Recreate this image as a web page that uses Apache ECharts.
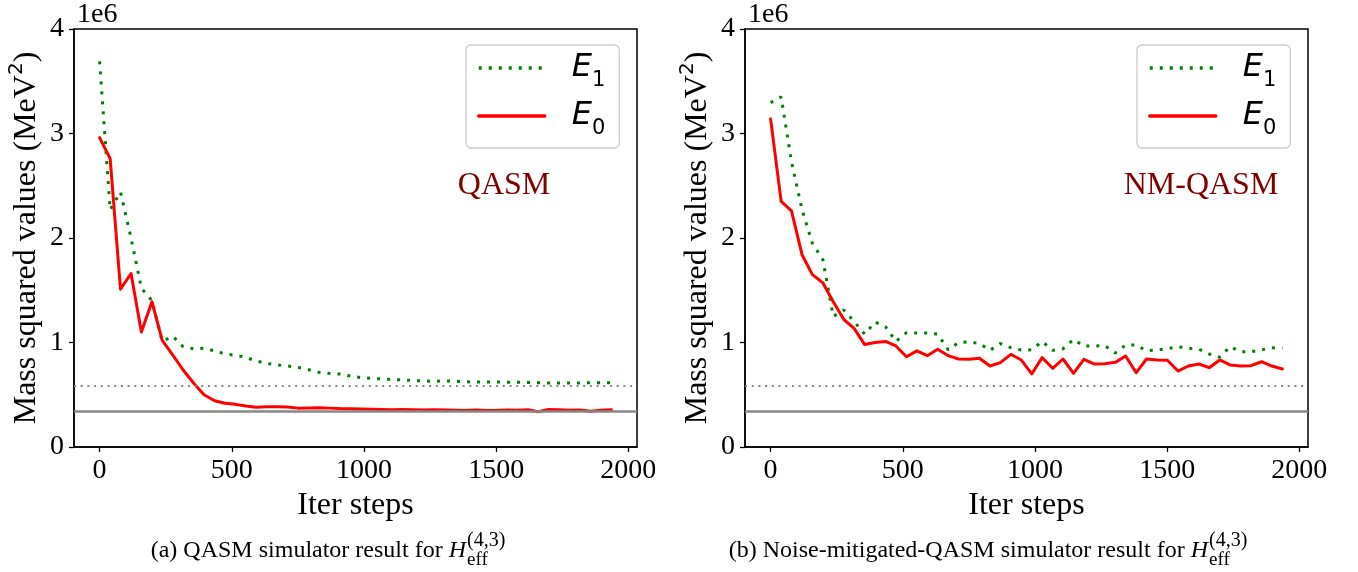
<!DOCTYPE html>
<html><head><meta charset="utf-8">
<script src="https://cdn.jsdelivr.net/npm/echarts@6/dist/echarts.min.js"></script>
<style>html,body{margin:0;padding:0;background:#fff}#c{width:1358px;height:572px}</style>
</head><body><div id="c"></div>
<script>
// Iteration steps (x)
const iterSteps = [0, 40, 79, 119, 158, 198, 237, 277, 316, 356, 395, 435, 474, 514, 553, 593, 632, 672, 711, 751,
  790, 830, 869, 909, 948, 988, 1027, 1067, 1106, 1146, 1185, 1225, 1264, 1304, 1343, 1383, 1422, 1462, 1501, 1541,
  1580, 1620, 1659, 1699, 1738, 1778, 1817, 1857, 1896, 1936];
// (a) QASM, values in units of 1e6 MeV^2
const qasmE1 = [3.69, 2.27, 2.44, 2.00, 1.52, 1.40, 1.01, 1.06, 0.96, 0.94, 0.945, 0.92, 0.89, 0.878, 0.858, 0.822, 0.80, 0.785, 0.775, 0.762,
  0.74, 0.715, 0.705, 0.698, 0.68, 0.665, 0.656, 0.652, 0.646, 0.642, 0.636, 0.632, 0.629, 0.632, 0.631, 0.624, 0.622, 0.622, 0.622, 0.62,
  0.619, 0.617, 0.615, 0.613, 0.612, 0.612, 0.613, 0.615, 0.615, 0.615];
const qasmE0 = [2.96, 2.76, 1.51, 1.66, 1.10, 1.39, 1.02, 0.88, 0.737, 0.61, 0.50, 0.443, 0.418, 0.408, 0.392, 0.38, 0.385, 0.386, 0.382, 0.372,
  0.374, 0.376, 0.372, 0.368, 0.367, 0.364, 0.362, 0.36, 0.357, 0.36, 0.356, 0.353, 0.356, 0.354, 0.352, 0.35, 0.353, 0.35, 0.35, 0.353,
  0.352, 0.356, 0.338, 0.358, 0.356, 0.352, 0.354, 0.343, 0.352, 0.356];
// (b) Noise-mitigated QASM
const nmE1 = [3.295, 3.35, 2.73, 2.27, 1.95, 1.79, 1.25, 1.31, 1.20, 1.08, 1.196, 1.15, 1.01, 1.094, 1.09, 1.09, 1.08, 0.93, 1.0, 1.005,
  0.99, 0.925, 0.99, 0.95, 0.928, 0.93, 1.01, 0.925, 0.94, 1.03, 0.965, 0.967, 0.97, 0.90, 0.976, 0.976, 0.92, 0.93, 0.94, 0.96,
  0.945, 0.935, 0.89, 0.86, 0.96, 0.912, 0.912, 0.93, 0.95, 0.944];
const nmE0 = [3.14, 2.35, 2.26, 1.84, 1.65, 1.57, 1.39, 1.22, 1.135, 0.98, 1.00, 1.01, 0.967, 0.864, 0.92, 0.874, 0.935, 0.874, 0.842, 0.84,
  0.849, 0.775, 0.807, 0.887, 0.833, 0.70, 0.855, 0.753, 0.842, 0.705, 0.839, 0.794, 0.797, 0.81, 0.871, 0.711, 0.842, 0.833, 0.83, 0.727,
  0.775, 0.794, 0.759, 0.833, 0.785, 0.775, 0.778, 0.816, 0.775, 0.746];
// Exact reference levels (1e6 MeV^2)
const exactE1 = [0.59];
const exactE0 = [0.345];
const xTicks = [0, 500, 1000, 1500, 2000];
const yTicks = [0, 1, 2, 3, 4];
const xRange = [-96.8, 2032.8];

const SERIF = 'Liberation Serif';
const grids = [
  {left: 74, top: 29, width: 563, height: 418},
  {left: 745, top: 29, width: 563, height: 418}
];

function xAxis(gi) {
  return {
    type: 'value', gridIndex: gi, min: xRange[0], max: xRange[1],
    name: 'Iter steps', nameLocation: 'middle', nameGap: 35,
    nameTextStyle: {fontFamily: SERIF, fontSize: 32, color: '#000'},
    axisLine: {show: true, onZero: false, lineStyle: {color: '#000', width: 1.5}},
    axisTick: {show: true, inside: false, length: 5, lineStyle: {color: '#000', width: 1.3}, customValues: xTicks},
    axisLabel: {show: true, margin: 10, fontFamily: SERIF, fontSize: 28, color: '#000', customValues: xTicks,
      formatter: v => String(v)},
    splitLine: {show: false}
  };
}
function yAxis(gi) {
  return {
    type: 'value', gridIndex: gi, min: yTicks[0], max: yTicks[yTicks.length - 1], interval: 1,
    name: '{a|Mass squared values (MeV}{s|2}{a|)}', nameLocation: 'middle', nameGap: 27, nameRotate: 90,
    nameTextStyle: {color: '#000', rich: {
      a: {fontFamily: SERIF, fontSize: 32, color: '#000', lineHeight: 40},
      s: {fontFamily: 'DejaVu Sans', fontSize: 20, color: '#000', verticalAlign: 'top', lineHeight: 40}
    }},
    axisLine: {show: true, onZero: false, lineStyle: {color: '#000', width: 1.5}},
    axisTick: {show: true, inside: false, length: 5, lineStyle: {color: '#000', width: 1.3}},
    axisLabel: {show: true, margin: 10, fontFamily: SERIF, fontSize: 28, color: '#000', formatter: v => String(v)},
    splitLine: {show: false}
  };
}
function pairs(xs, ys) { return xs.map((x, i) => [x, ys[i]]); }
function lineSeries(name, gi, ys, style, z) {
  return {type: 'line', name, xAxisIndex: gi, yAxisIndex: gi, data: pairs(iterSteps, ys),
    symbol: 'none', showSymbol: false, lineStyle: style, itemStyle: {color: style.color}, z, silent: true,
    emphasis: {disabled: true}};
}
const greenDot = {color: '#008000', width: 3, type: [3, 7], cap: 'butt'};
const redSolid = {color: '#ff0000', width: 3, cap: 'round', join: 'round'};
function refSeries(gi) {
  return {type: 'line', name: 'ref' + gi, xAxisIndex: gi, yAxisIndex: gi, data: [], z: 1, silent: true,
    markLine: {symbol: ['none', 'none'], silent: true, animation: false, label: {show: false},
      emphasis: {disabled: true},
      data: [
        {yAxis: exactE1[0], lineStyle: {color: '#888888', width: 2, type: [2, 4.7], cap: 'butt'}},
        {yAxis: exactE0[0], lineStyle: {color: '#888888', width: 2.5, type: 'solid'}}
      ]}};
}
function legend(left) {
  return {
    data: ['E1', 'E0'], orient: 'vertical', left, top: 45, padding: [7, 14, 9, 11],
    itemWidth: 66, itemHeight: 14, itemGap: 9, selectedMode: false,
    backgroundColor: 'rgba(255,255,255,0.85)', borderColor: '#cccccc', borderWidth: 1.3, borderRadius: 5,
    itemStyle: {color: 'rgba(0,0,0,0)', borderWidth: 0, opacity: 0},
    lineStyle: {width: 3.5},
    formatter: n => '{e|E}{s|' + n.slice(1) + '}',
    textStyle: {rich: {
      e: {fontFamily: 'DejaVu Sans', fontStyle: 'italic', fontSize: 32, color: '#000', lineHeight: 40, padding: [0, 0, 0, 22]},
      s: {fontFamily: 'DejaVu Sans', fontSize: 21, color: '#000', lineHeight: 40, verticalAlign: 'bottom', padding: [0, 0, -3, 0]}
    }}
  };
}
function caption(prefix, hRight, y) {
  return [
    {type: 'text', x: hRight, y: y, style: {text: '{n|' + prefix + '}{h|H}', align: 'right', verticalAlign: 'middle',
      rich: {n: {fontFamily: SERIF, fontSize: 24, fill: '#000'}, h: {fontFamily: SERIF, fontStyle: 'italic', fontSize: 24, fill: '#000'}}}},
    {type: 'text', x: hRight + 1, y: y - 10, style: {text: '(4,3)', align: 'left', verticalAlign: 'middle', fontFamily: SERIF, fontSize: 20, fill: '#000'}},
    {type: 'text', x: hRight + 1, y: y + 9, style: {text: 'eff', align: 'left', verticalAlign: 'middle', fontFamily: SERIF, fontSize: 19, fill: '#000'}}
  ];
}

const chart = echarts.init(document.getElementById('c'), null, {renderer: 'canvas'});
chart.setOption({
  animation: false,
  backgroundColor: '#ffffff',
  grid: grids.map(g => Object.assign({show: true, borderColor: '#000', borderWidth: 1.5, backgroundColor: 'transparent'}, g)),
  xAxis: [xAxis(0), xAxis(1)],
  yAxis: [yAxis(0), yAxis(1)],
  legend: [legend(466), legend(1137)],
  series: [
    refSeries(0),
    lineSeries('E1', 0, qasmE1, greenDot, 3),
    lineSeries('E0', 0, qasmE0, redSolid, 4),
    refSeries(1),
    lineSeries('E1', 1, nmE1, greenDot, 3),
    lineSeries('E0', 1, nmE0, redSolid, 4)
  ],
  graphic: [
    {type: 'text', x: 77, y: 15, style: {text: '1e6', verticalAlign: 'middle', fontFamily: SERIF, fontSize: 28, fill: '#000'}},
    {type: 'text', x: 748, y: 15, style: {text: '1e6', verticalAlign: 'middle', fontFamily: SERIF, fontSize: 28, fill: '#000'}},
    {type: 'text', x: 504, y: 186, style: {text: 'QASM', align: 'center', verticalAlign: 'middle', fontFamily: SERIF, fontSize: 32, fill: '#800000'}},
    {type: 'text', x: 1201, y: 186, style: {text: 'NM-QASM', align: 'center', verticalAlign: 'middle', fontFamily: SERIF, fontSize: 32, fill: '#800000'}},
    ...caption('(a) QASM simulator result for ', 466, 551),
    ...caption('(b) Noise-mitigated-QASM simulator result for ', 1208, 551)
  ]
});
</script></body></html>
